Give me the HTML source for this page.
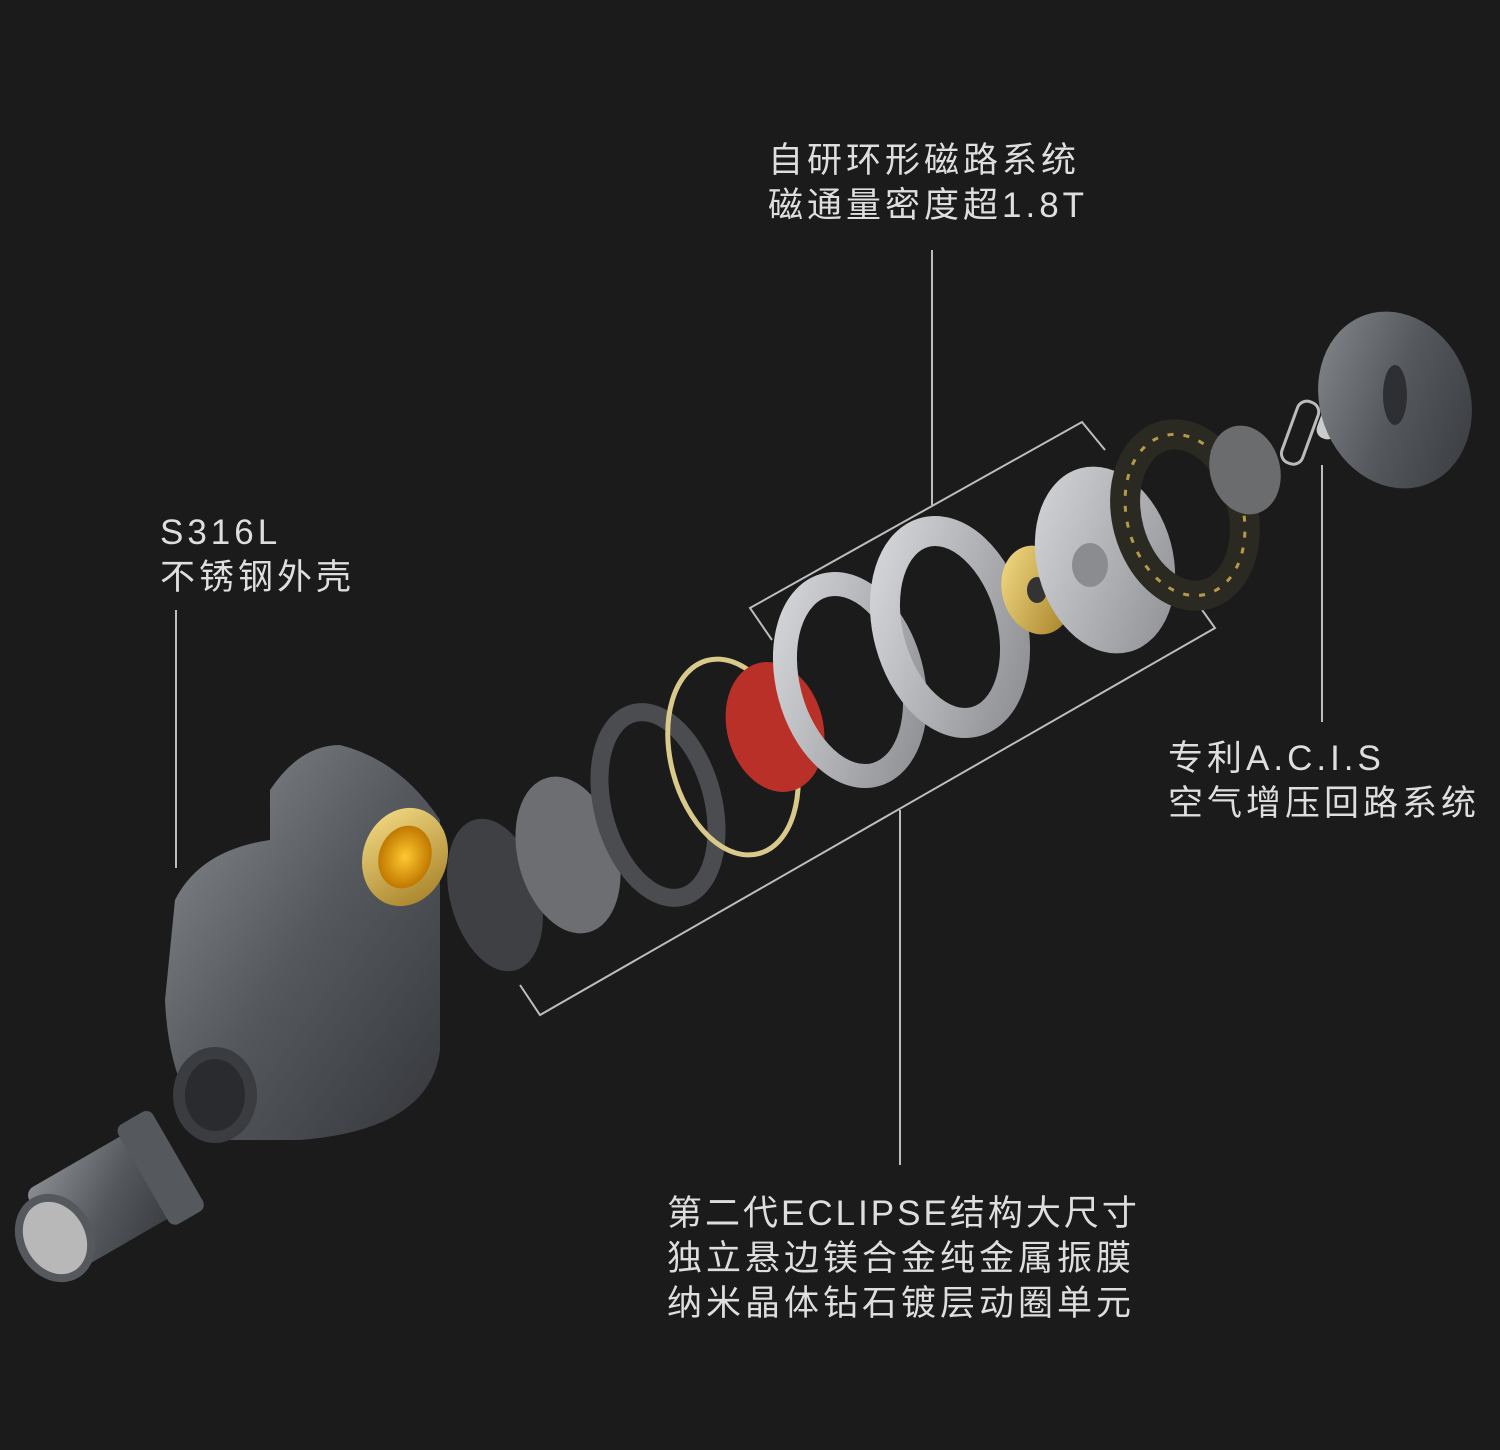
<!DOCTYPE html>
<html><head><meta charset="utf-8"><style>
html,body{margin:0;padding:0;background:#1b1b1b;}
#c{position:relative;width:1500px;height:1450px;overflow:hidden;background:#1b1b1b;font-family:"Liberation Sans","Noto Sans CJK SC",sans-serif;color:#dedede;}
.t{position:absolute;font-size:35px;line-height:45px;white-space:nowrap;letter-spacing:4px;}
svg{position:absolute;left:0;top:0;}
</style></head><body><div id="c">
<svg width="1500" height="1450" viewBox="0 0 1500 1450">
<defs>
<linearGradient id="g1" x1="0" y1="0" x2="1" y2="1"><stop offset="0" stop-color="#8a8d92"/><stop offset="0.5" stop-color="#55585d"/><stop offset="1" stop-color="#35373b"/></linearGradient>
<linearGradient id="g2" x1="0" y1="0" x2="1" y2="1"><stop offset="0" stop-color="#d8d9dc"/><stop offset="1" stop-color="#8a8c90"/></linearGradient>
<linearGradient id="gold" x1="0" y1="0" x2="1" y2="1"><stop offset="0" stop-color="#f7e08a"/><stop offset="1" stop-color="#a07a20"/></linearGradient>
<radialGradient id="gy"><stop offset="0" stop-color="#ffc830"/><stop offset="1" stop-color="#c07800"/></radialGradient>
</defs>
<g stroke="#bdbdbd" stroke-width="2" fill="none">
<line x1="932" y1="250" x2="932" y2="505"/>
<line x1="176" y1="610" x2="176" y2="868"/>
<line x1="1322" y1="465" x2="1322" y2="722"/>
<line x1="900" y1="810" x2="900" y2="1165"/>
<polyline points="772,640 750,608 1082,422 1105,450"/>
<polyline points="520,985 540,1015 1215,628 1195,600"/>
</g>
<g transform="rotate(-30 110 1200)">
<rect x="40" y="1150" width="140" height="95" rx="10" fill="url(#g1)"/>
<rect x="150" y="1140" width="40" height="115" rx="8" fill="#55585c"/>
</g>
<ellipse cx="55" cy="1238" rx="38" ry="46" transform="rotate(-30 55 1238)" fill="#55585c"/>
<ellipse cx="55" cy="1238" rx="30" ry="38" transform="rotate(-30 55 1238)" fill="#b8b8b8"/>
<path d="M175 900 Q200 850 270 840 L270 790 Q300 745 340 745 Q400 760 440 820 Q440 960 440 1050 Q430 1130 300 1140 L230 1140 Q170 1110 165 1000 Z" fill="url(#g1)"/>
<ellipse cx="215" cy="1095" rx="42" ry="48" fill="#3a3c40"/>
<ellipse cx="215" cy="1095" rx="30" ry="36" fill="#2a2b2e"/>
<ellipse cx="405" cy="857" rx="42" ry="50" transform="rotate(20 405 857)" fill="url(#gold)"/>
<ellipse cx="405" cy="857" rx="26" ry="32" transform="rotate(20 405 857)" fill="url(#gy)"/>
<ellipse cx="495" cy="895" rx="45" ry="78" transform="rotate(-15 495 895)" fill="#3e4044"/>
<ellipse cx="568" cy="855" rx="50" ry="80" transform="rotate(-15 568 855)" fill="#6c6e72"/>
<ellipse cx="658" cy="805" rx="55" ry="95" transform="rotate(-15 658 805)" fill="none" stroke="#4a4c50" stroke-width="18"/>
<ellipse cx="733" cy="757" rx="62" ry="100" transform="rotate(-15 733 757)" fill="none" stroke="#d9c98a" stroke-width="5"/>
<ellipse cx="775" cy="727" rx="48" ry="66" transform="rotate(-15 775 727)" fill="#b83028"/>
<ellipse cx="850" cy="680" rx="62" ry="98" transform="rotate(-15 850 680)" fill="none" stroke="url(#g2)" stroke-width="24"/>
<ellipse cx="950" cy="627" rx="62" ry="98" transform="rotate(-15 950 627)" fill="none" stroke="url(#g2)" stroke-width="30"/>
<ellipse cx="1037" cy="590" rx="35" ry="45" transform="rotate(-15 1037 590)" fill="url(#gold)"/>
<ellipse cx="1037" cy="590" rx="10" ry="13" fill="#333"/>
<ellipse cx="1105" cy="560" rx="68" ry="95" transform="rotate(-15 1105 560)" fill="url(#g2)"/>
<ellipse cx="1090" cy="565" rx="18" ry="22" fill="#8a8c90"/>
<ellipse cx="1185" cy="515" rx="58" ry="82" transform="rotate(-15 1185 515)" fill="none" stroke="#2b2a22" stroke-width="30"/>
<ellipse cx="1185" cy="515" rx="58" ry="82" transform="rotate(-15 1185 515)" fill="none" stroke="#b59a4a" stroke-width="3" stroke-dasharray="6 10"/>
<ellipse cx="1245" cy="470" rx="35" ry="45" transform="rotate(-15 1245 470)" fill="#6b6c6e"/>
<rect x="1290" y="400" width="22" height="65" rx="10" transform="rotate(20 1300 430)" fill="none" stroke="#bbb" stroke-width="3"/>
<rect x="1322" y="390" width="20" height="50" rx="9" transform="rotate(20 1332 415)" fill="#ccc"/>
<ellipse cx="1395" cy="400" rx="75" ry="90" transform="rotate(-20 1395 400)" fill="url(#g1)"/>
<ellipse cx="1395" cy="395" rx="12" ry="30" fill="#2e2f32"/>
</svg>
<div class="t" style="left:768px;top:138px;">自研环形磁路系统<br>磁通量密度超1.8T</div>
<div class="t" style="left:160px;top:510px;">S316L<br>不锈钢外壳</div>
<div class="t" style="left:1168px;top:736px;">专利A.C.I.S<br>空气增压回路系统</div>
<div class="t" style="left:667px;top:1191px;"><span style="letter-spacing:3px">第二代ECLIPSE结构大尺寸</span><br>独立悬边镁合金纯金属振膜<br>纳米晶体钻石镀层动圈单元</div>
</div></body></html>
